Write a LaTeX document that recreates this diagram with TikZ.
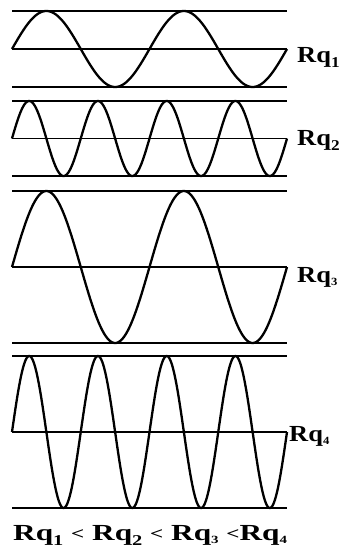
\documentclass[tikz,border=0pt]{standalone}
\usepackage{fontspec}
\setmainfont{Liberation Serif}
\newcommand{\bigsub}[1]{\raisebox{-5.5pt}{\fontsize{15}{15}\selectfont #1}}
\newcommand{\smallsub}[1]{\raisebox{-3.5pt}{\fontsize{11}{11}\selectfont #1}}
\newcommand{\lessthan}{{\fontsize{17}{17}\selectfont\raisebox{1pt}{<}}}
\newcommand{\wide}[1]{\scalebox{1.15}[1]{#1}}
\begin{document}
\begin{tikzpicture}[x=1pt,y=-1pt,
  thickline/.style={line width=2.3pt},
  thinline/.style={line width=1.2pt},
  wave/.style={line width=2.3pt,line join=round},
  lbl/.style={font=\fontsize{23}{23}\selectfont\bfseries,inner sep=0pt,anchor=base west}]
\useasboundingbox (0,0) rectangle (342,554);
% panel 1
\draw[thickline] (12,11) -- (287,11);
\draw[thickline] (12,49) -- (287,49);
\draw[thickline] (12,87) -- (287,87);
\draw[wave] plot[domain=12:287,samples=220] (\x,{49-38*sin((\x-12)/137.5*360)});
% panel 2
\draw[thinline] (12,101) -- (287,101);
\draw[thinline] (12,138.5) -- (287,138.5);
\draw[thickline] (12,176) -- (287,176);
\draw[wave] plot[domain=12:287,samples=300] (\x,{138.5-37.5*sin((\x-12)/68.75*360)});
% panel 3
\draw[thinline] (12,191) -- (287,191);
\draw[thickline] (12,267) -- (287,267);
\draw[thickline] (12,343) -- (287,343);
\draw[wave] plot[domain=12:287,samples=220] (\x,{267-76*sin((\x-12)/137.5*360)});
% panel 4
\draw[thickline] (12,356) -- (287,356);
\draw[thickline] (12,432) -- (287,432);
\draw[thickline] (12,508) -- (287,508);
\draw[wave] plot[domain=12:287,samples=300] (\x,{432-76*sin((\x-12)/68.75*360)});
% labels
\node[lbl] (l1) at (297,62) {\wide{Rq\bigsub{1}}};
\node[lbl] (l2) at (297,145) {\wide{Rq\bigsub{2}}};
\node[lbl] (l3) at (297,282) {\wide{Rq\smallsub{3}}};
\node[lbl] (l4) at (289,441) {\wide{Rq\smallsub{4}}};
\node[lbl] (cmp) at (13,540) {\scalebox{1.36}[1]{Rq\bigsub{1} \lessthan{} Rq\bigsub{2} \lessthan{} Rq\smallsub{3} \lessthan Rq\smallsub{4}}};
\end{tikzpicture}
\end{document}
